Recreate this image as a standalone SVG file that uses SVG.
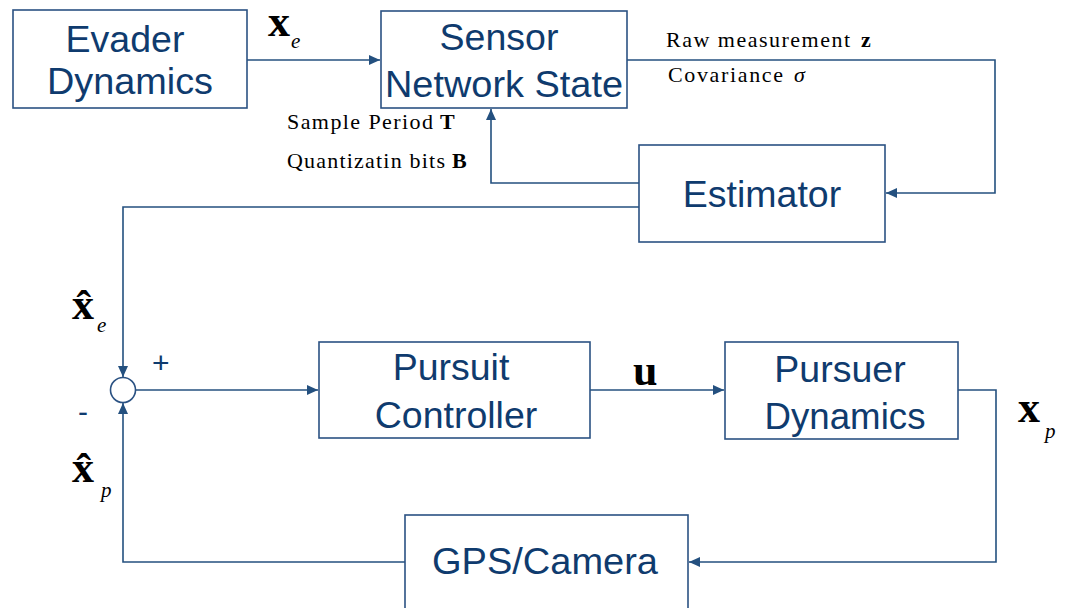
<svg xmlns="http://www.w3.org/2000/svg" width="1065" height="608" viewBox="0 0 1065 608">
<style>
.box{fill:#fff;stroke:#2B5283;stroke-width:1.6}
.lbl{font-family:"Liberation Sans",Arial,sans-serif;font-size:37.5px;fill:#0F3B6E;text-anchor:middle}
.con{fill:none;stroke:#24507F;stroke-width:1.6}
.m{font-family:"Liberation Serif","Times New Roman",serif;fill:#000}
.mb{font-weight:bold;font-size:44px}
.sub{font-style:italic;font-size:21px}
.txt{font-family:"Liberation Serif","Times New Roman",serif;font-size:22px;fill:#000}
.sign{font-family:"Liberation Sans",Arial,sans-serif;font-size:30px;fill:#0F3B6E}
</style>
<defs>
<marker id="ah" markerUnits="userSpaceOnUse" markerWidth="12" markerHeight="10" refX="11" refY="5" orient="auto">
<path d="M0,0 L11,5 L0,10 Z" fill="#24507F"/>
</marker>
</defs>
<rect width="1065" height="608" fill="#fff"/>
<g id="connectors">
<path class="con" d="M247,60 H380" marker-end="url(#ah)"/>
<path class="con" d="M627,60 H995 V193 H886" marker-end="url(#ah)"/>
<path class="con" d="M639,183 H491 V109" marker-end="url(#ah)"/>
<path class="con" d="M639,207 H123 V377" marker-end="url(#ah)"/>
<path class="con" d="M136,390 H318" marker-end="url(#ah)"/>
<path class="con" d="M590,390 H724" marker-end="url(#ah)"/>
<path class="con" d="M958,390 H996 V562 H689" marker-end="url(#ah)"/>
<path class="con" d="M405,562 H123 V403" marker-end="url(#ah)"/>
</g>
<g id="evader">
<rect class="box" x="13" y="10" width="234" height="98"/>
<text class="lbl" x="125" y="52">Evader</text>
<text class="lbl" x="130" y="94" textLength="166" lengthAdjust="spacingAndGlyphs">Dynamics</text>
</g>
<g id="sensor">
<rect class="box" x="381" y="11" width="246" height="97"/>
<text class="lbl" x="499" y="50">Sensor</text>
<text class="lbl" x="504" y="97" textLength="238" lengthAdjust="spacingAndGlyphs">Network State</text>
</g>
<g id="estimator">
<rect class="box" x="639" y="145" width="246" height="97"/>
<text class="lbl" x="762" y="207">Estimator</text>
</g>
<g id="sum">
<circle cx="123" cy="390" r="12.5" fill="#fff" stroke="#2B5283" stroke-width="1.6"/>
</g>
<g id="pursuit">
<rect class="box" x="319" y="342" width="271" height="96"/>
<text class="lbl" x="451" y="380">Pursuit</text>
<text class="lbl" x="456" y="428">Controller</text>
</g>
<g id="pursuer">
<rect class="box" x="725" y="342" width="233" height="97"/>
<text class="lbl" x="840" y="382">Pursuer</text>
<text class="lbl" x="845" y="429" textLength="161" lengthAdjust="spacingAndGlyphs">Dynamics</text>
</g>
<g id="gps">
<rect class="box" x="405" y="515" width="283" height="110"/>
<text class="lbl" x="545" y="574" textLength="226" lengthAdjust="spacingAndGlyphs">GPS/Camera</text>
</g>
<g id="labels">
<text class="m mb" x="268" y="36" font-size="40">x</text>
<text class="m sub" x="291" y="48">e</text>
<text class="m mb" x="72" y="319">x̂</text>
<text class="m sub" x="97" y="332">e</text>
<text class="m mb" x="72" y="482">x̂</text>
<text class="m sub" x="101" y="497">p</text>
<text class="m mb" x="1018" y="422">x</text>
<text class="m sub" x="1045" y="438">p</text>
<text class="m mb" x="633" y="385" font-size="46">u</text>
<text class="sign" x="152" y="373">+</text>
<text class="sign" x="78" y="422">-</text>
<text class="txt" x="666" y="47" textLength="184" lengthAdjust="spacing">Raw measurement</text>
<text class="txt" x="861" y="47" font-weight="bold">z</text>
<text class="txt" x="668" y="82" textLength="115" lengthAdjust="spacing">Covariance</text>
<text class="txt" x="794" y="82" font-style="italic">σ</text>
<text class="txt" x="287" y="129" textLength="146" lengthAdjust="spacing">Sample Period</text>
<text class="txt" x="440" y="129" font-weight="bold">T</text>
<text class="txt" x="287" y="168" textLength="158" lengthAdjust="spacing">Quantizatin bits</text>
<text class="txt" x="452" y="168" font-weight="bold">B</text>
</g>
</svg>
